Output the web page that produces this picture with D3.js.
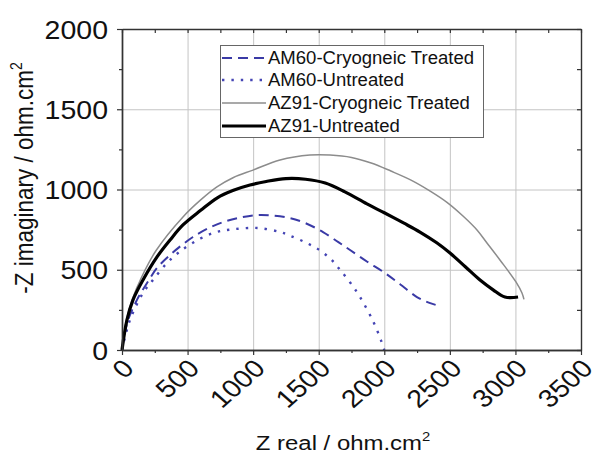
<!DOCTYPE html>
<html>
<head>
<meta charset="utf-8">
<script src="https://cdn.jsdelivr.net/npm/d3@7"></script>
<style>
  html, body { margin: 0; padding: 0; background: #fff; }
  svg { display: block; font-family: "Liberation Sans", Arial, sans-serif; }
</style>
</head>
<body>
<svg id="chart" width="600" height="455"></svg>
<script>
// Nyquist data: [Z real, -Z imaginary] in ohm.cm2
const am60Cryo = [[0,0],[40,170],[114,312],[191,417],[267,511],[366,592],[457,654],[541,704],[650,755],[770,797],[900,825],[1029,841],[1150,838],[1281,822],[1400,790],[1533,735],[1650,672],[1739,623],[1870,550],[2005,480],[2120,410],[2249,330],[2350,292],[2425,274]];
const am60Untreated = [[0,0],[60,185],[160,355],[236,436],[343,542],[427,604],[541,668],[694,729],[846,752],[1040,760],[1205,735],[1281,712],[1400,670],[1510,620],[1600,560],[1662,500],[1740,420],[1815,330],[1920,170],[1975,60],[2000,0]];
const az91Cryo = [[0,0],[35,190],[80,320],[150,455],[260,620],[465,829],[600,935],[724,1016],[850,1075],[999,1121],[1205,1184],[1433,1215],[1586,1215],[1750,1200],[1900,1165],[2050,1115],[2200,1060],[2350,990],[2478,920],[2600,835],[2707,748],[2783,667],[2882,561],[3004,424],[3050,355],[3065,315]];
const az91Untreated = [[0,0],[38,187],[84,312],[160,436],[267,580],[366,685],[465,779],[600,870],[724,947],[850,995],[976,1028],[1100,1050],[1250,1068],[1400,1064],[1550,1040],[1700,985],[1868,910],[2000,855],[2150,790],[2272,735],[2400,668],[2501,604],[2620,517],[2730,436],[2830,375],[2920,330],[3020,330]];

const seriesLabels = ["AM60-Cryogneic Treated", "AM60-Untreated", "AZ91-Cryogneic Treated", "AZ91-Untreated"];

const xMajor = [0, 500, 1000, 1500, 2000, 2500, 3000, 3500];
const xMinor = [250, 750, 1250, 1750, 2250, 2750, 3250];
const yMajor = [0, 500, 1000, 1500, 2000];
const yMinor = [250, 750, 1250, 1750];

const svg = d3.select("#chart");
const L = 122, R = 581, T = 29, B = 350;
const S = 1.14; // horizontal glyph stretch

const x = d3.scaleLinear().domain([0, 3500]).range([L, R]);
const y = d3.scaleLinear().domain([0, 2000]).range([B, T]);

// grid lines
svg.append("g").attr("transform", `translate(0,${B})`)
  .call(d3.axisBottom(x).tickValues(xMajor.slice(1, -1)).tickSize(-(B - T)).tickFormat(""))
  .call(g => g.select(".domain").remove())
  .call(g => g.selectAll("line").attr("stroke", "#c4c4c4").attr("stroke-width", 1));
svg.append("g").attr("transform", `translate(${L},0)`)
  .call(d3.axisLeft(y).tickValues(yMajor.slice(1, -1)).tickSize(-(R - L)).tickFormat(""))
  .call(g => g.select(".domain").remove())
  .call(g => g.selectAll("line").attr("stroke", "#c4c4c4").attr("stroke-width", 1));

// series
const line = d3.line().x(d => x(d[0])).y(d => y(d[1])).curve(d3.curveCatmullRom.alpha(0.5));
const styles = [
  { data: am60Cryo, stroke: "#3a3aa6", width: 2, dash: "10,6" },
  { data: am60Untreated, stroke: "#4444b4", width: 2.4, dash: "2.4,7" },
  { data: az91Cryo, stroke: "#8c8c8c", width: 1.5, dash: null },
  { data: az91Untreated, stroke: "#000", width: 3.2, dash: null }
];
const plot = svg.append("g");
styles.forEach(s => {
  plot.append("path").datum(s.data)
    .attr("d", line)
    .attr("fill", "none")
    .attr("stroke", s.stroke)
    .attr("stroke-width", s.width)
    .attr("stroke-dasharray", s.dash)
    .attr("stroke-linejoin", "round");
});

// frame and ticks
const axisColor = "#333";
function styleAxis(g) {
  g.selectAll("line").attr("stroke", axisColor).attr("stroke-width", 1.2);
  g.select(".domain").attr("stroke", axisColor).attr("stroke-width", 1.4);
}
// bottom
const bottom = svg.append("g").attr("transform", `translate(0,${B})`)
  .call(d3.axisBottom(x).tickValues(xMajor).tickSizeInner(5).tickSizeOuter(0).tickFormat(d3.format("d")))
  .call(styleAxis);
svg.append("g").attr("transform", `translate(0,${B})`)
  .call(d3.axisBottom(x).tickValues(xMinor).tickSizeInner(3).tickSizeOuter(0).tickFormat(""))
  .call(styleAxis);
bottom.selectAll("text")
  .attr("fill", "#111")
  .attr("font-size", 25)
  .attr("text-anchor", "end")
  .attr("x", null).attr("y", null).attr("dy", null)
  .attr("transform", `translate(13,20) scale(${S},1) rotate(-45)`);
// left
const left = svg.append("g").attr("transform", `translate(${L},0)`)
  .call(d3.axisLeft(y).tickValues(yMajor).tickSizeInner(5).tickSizeOuter(0).tickFormat(d3.format("d")))
  .call(styleAxis);
svg.append("g").attr("transform", `translate(${L},0)`)
  .call(d3.axisLeft(y).tickValues(yMinor).tickSizeInner(3).tickSizeOuter(0).tickFormat(""))
  .call(styleAxis);
left.selectAll("text")
  .attr("fill", "#111")
  .attr("font-size", 25)
  .attr("text-anchor", "end")
  .attr("x", null).attr("dy", "0.36em")
  .attr("transform", `translate(-14,0) scale(${S},1)`);
// top
svg.append("g").attr("transform", `translate(0,${T})`)
  .call(d3.axisTop(x).tickValues(xMajor.concat(xMinor)).tickSizeInner(-4).tickSizeOuter(0).tickFormat(""))
  .call(styleAxis);
// right
svg.append("g").attr("transform", `translate(${R},0)`)
  .call(d3.axisRight(y).tickValues(yMajor.concat(yMinor)).tickSizeInner(-4).tickSizeOuter(0).tickFormat(""))
  .call(styleAxis);

// axis titles
const xTitle = svg.append("text")
  .attr("transform", `translate(343,450) scale(${S},1)`)
  .attr("text-anchor", "middle").attr("font-size", 21).attr("fill", "#111");
xTitle.append("tspan").text("Z real / ohm.cm");
xTitle.append("tspan").attr("font-size", 13).attr("dy", -9).text("2");

const yTitle = svg.append("text")
  .attr("transform", `translate(33,178) scale(${S},1) rotate(-90)`)
  .attr("text-anchor", "middle").attr("font-size", 22.5).attr("fill", "#111");
yTitle.append("tspan").text("-Z imaginary / ohm.cm");
yTitle.append("tspan").attr("font-size", 14).attr("dy", -10).text("2");

// legend
const legend = svg.append("g");
legend.append("rect")
  .attr("x", 220.5).attr("y", 45.5).attr("width", 263).attr("height", 92)
  .attr("fill", "#fff").attr("stroke", "#666").attr("stroke-width", 1);
const rowY = [58, 80, 103, 126];
seriesLabels.forEach((label, i) => {
  const s = styles[i];
  legend.append("line")
    .attr("x1", 222).attr("x2", 266).attr("y1", rowY[i]).attr("y2", rowY[i])
    .attr("stroke", s.stroke).attr("stroke-width", s.width)
    .attr("stroke-dasharray", s.dash);
  legend.append("text")
    .attr("transform", `translate(268,${rowY[i]}) scale(1.06,1)`)
    .attr("dy", "0.36em").attr("font-size", 17.5).attr("fill", "#111")
    .text(label);
});
</script>
</body>
</html>
